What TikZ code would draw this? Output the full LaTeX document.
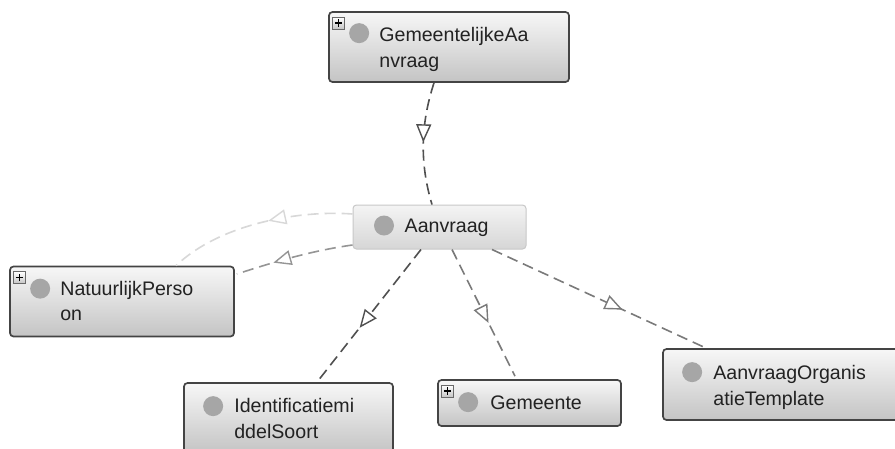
\documentclass[tikz,border=0pt]{standalone}
\usepackage{fontspec}
\setmainfont{Liberation Sans}
\usetikzlibrary{arrows.meta,decorations.markings}

\definecolor{boxline}{HTML}{444444}
\definecolor{boxtop}{HTML}{F7F7F7}
\definecolor{boxbot}{HTML}{C4C4C4}
\definecolor{hiline}{HTML}{C8C8C8}
\definecolor{hitop}{HTML}{F4F4F4}
\definecolor{hibot}{HTML}{D6D6D6}
\definecolor{labeltext}{HTML}{222222}
\definecolor{dotgray}{HTML}{A6A6A6}
\definecolor{edgedark}{HTML}{505050}
\definecolor{edgemid}{HTML}{7A7A7A}
\definecolor{edgelight}{HTML}{959595}
\definecolor{edgefaint}{HTML}{D8D8D8}

\tikzset{
  classbox/.style={draw=boxline, line width=1.7pt, rounded corners=3.5pt,
    top color=boxtop, bottom color=boxbot, inner sep=0pt},
  focusbox/.style={draw=hiline, line width=1pt, rounded corners=3.5pt,
    top color=hitop, bottom color=hibot, inner sep=0pt},
  classdot/.style={circle, fill=dotgray, minimum size=20pt, inner sep=0pt},
  classlabel/.style={anchor=base west, inner sep=0pt, text=labeltext,
    font=\fontsize{19.6}{24}\selectfont},
  plusbox/.style={draw=boxline!80, line width=0.8pt, top color=white,
    bottom color=boxbot, minimum width=12pt, minimum height=12pt, inner sep=0pt},
  relation/.style={line width=1.6pt, dash pattern=on 11pt off 6pt},
  mid arrow/.style={postaction={decorate}, decoration={markings,
    mark=at position #1 with {\arrow{Triangle[length=18pt,width=15pt,fill=white,line width=1.4pt]}}}},
}

% small expand icon in the upper left corner of a class box
\newcommand\plusicon[2]{%
  \node[plusbox] (#1) at ([xshift=10.5pt,yshift=-12pt]#2.north west) {};
  \draw[line width=1.6pt, draw=black] ([xshift=-3.8pt]#1.center) -- ([xshift=3.8pt]#1.center)
    ([yshift=-3.8pt]#1.center) -- ([yshift=3.8pt]#1.center);
}

\begin{document}
\begin{tikzpicture}[x=1pt,y=-1pt]
\useasboundingbox (0,0) rectangle (895,448);
\fill[white] (0,0) rectangle (895,448);
\clip (0,0) rectangle (895,448);

% class boxes
\node[classbox, minimum width=240pt, minimum height=70pt] (gem) at (449,47) {};
\node[focusbox, minimum width=173pt, minimum height=44pt] (aan) at (439.5,227) {};
\node[classbox, minimum width=224pt, minimum height=70pt] (nat) at (122,301.5) {};
\node[classbox, minimum width=209pt, minimum height=70pt] (idm) at (288.5,418) {};
\node[classbox, minimum width=183pt, minimum height=46pt] (gmt) at (529.5,403) {};
\node[classbox, minimum width=240pt, minimum height=71pt] (aot) at (783,384.5) {};

% relations
\draw[relation, draw=edgedark, mid arrow=0.49]
  ([xshift=-15pt]gem.south) .. controls +(-14,43) and +(-12,-40) .. ([xshift=-7.5pt]aan.north);
\draw[relation, draw=edgefaint, mid arrow=0.45]
  ([yshift=13pt]aan.west) .. controls +(-53,-4) and +(44,-42) .. ([xshift=54pt]nat.north);
\draw[relation, draw=edgelight, mid arrow=0.68]
  ([yshift=-18pt]aan.west) .. controls +(-43,6) and +(34,-11) .. ([xshift=2pt,yshift=27.5pt]nat.east);
\draw[relation, draw=edgedark, mid arrow=0.59]
  ([xshift=-18.5pt]aan.south) -- ([xshift=28.5pt]idm.north);
\draw[relation, draw=edgemid, mid arrow=0.58]
  ([xshift=12.5pt]aan.south) -- ([xshift=-14.5pt,yshift=3pt]gmt.north);
\draw[relation, draw=edgemid, mid arrow=0.61]
  ([xshift=52.5pt]aan.south) -- ([xshift=44pt]aot.north west);

% icons and labels
\node[classdot] (gem-dot) at ([xshift=31pt,yshift=-22pt]gem.north west) {};
\node[classlabel] (gem-l1) at ([xshift=51pt,yshift=-30pt]gem.north west) {GemeentelijkeAa};
\node[classlabel] (gem-l2) at ([xshift=51pt,yshift=-56pt]gem.north west) {nvraag};
\plusicon{gem-plus}{gem}

\node[classdot] (aan-dot) at ([xshift=31.5pt,yshift=-21pt]aan.north west) {};
\node[classlabel] (aan-l1) at ([xshift=52pt,yshift=-28pt]aan.north west) {Aanvraag};

\node[classdot] (nat-dot) at ([xshift=31pt,yshift=-23pt]nat.north west) {};
\node[classlabel] (nat-l1) at ([xshift=51pt,yshift=-30pt]nat.north west) {NatuurlijkPerso};
\node[classlabel] (nat-l2) at ([xshift=51pt,yshift=-55pt]nat.north west) {on};
\plusicon{nat-plus}{nat}

\node[classdot] (idm-dot) at ([xshift=30pt,yshift=-24pt]idm.north west) {};
\node[classlabel] (idm-l1) at ([xshift=51pt,yshift=-30pt]idm.north west) {Identificatiemi};
\node[classlabel] (idm-l2) at ([xshift=51pt,yshift=-56pt]idm.north west) {ddelSoort};

\node[classdot] (gmt-dot) at ([xshift=31pt,yshift=-23pt]gmt.north west) {};
\node[classlabel] (gmt-l1) at ([xshift=53pt,yshift=-30pt]gmt.north west) {Gemeente};
\plusicon{gmt-plus}{gmt}

\node[classdot] (aot-dot) at ([xshift=30pt,yshift=-24pt]aot.north west) {};
\node[classlabel] (aot-l1) at ([xshift=51pt,yshift=-31pt]aot.north west) {AanvraagOrganis};
\node[classlabel] (aot-l2) at ([xshift=51pt,yshift=-57pt]aot.north west) {atieTemplate};
\end{tikzpicture}
\end{document}
